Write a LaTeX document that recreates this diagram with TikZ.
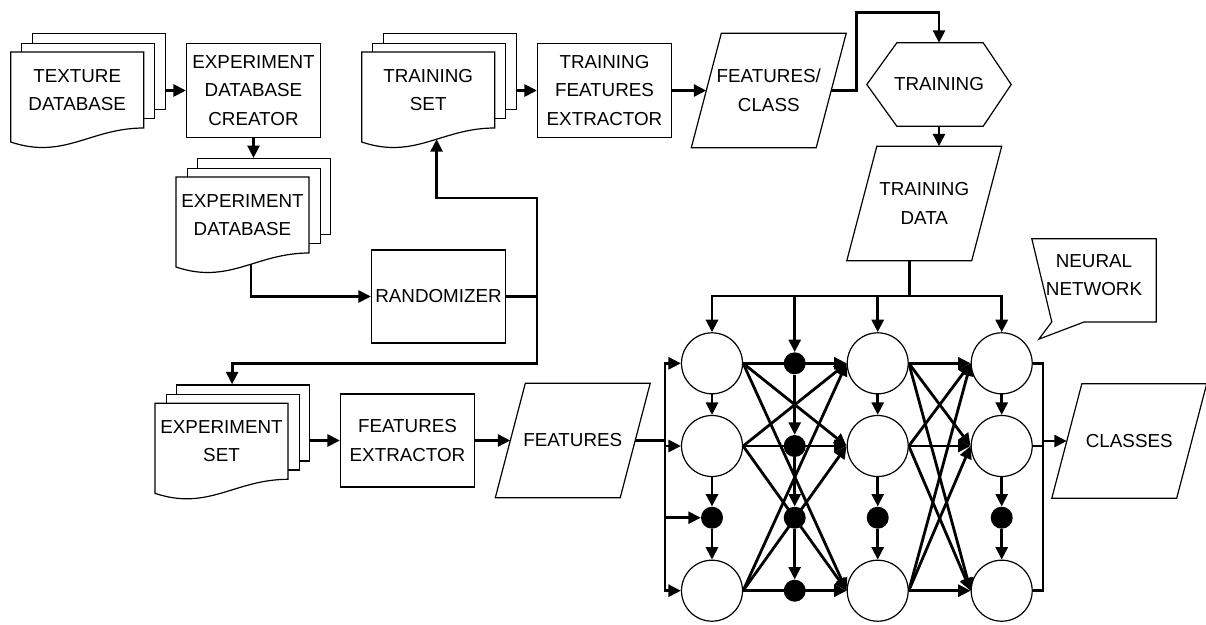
\documentclass[tikz,border=0pt]{standalone}
\usepackage{fontspec}
\setmainfont{Liberation Sans}
\usetikzlibrary{arrows.meta,calc,backgrounds}

\tikzset{
  shp/.style={draw=black, line width=1.2pt, fill=white, inner sep=0pt},
  txt/.style={font=\fontsize{18.8}{28.5}\selectfont, align=center, inner sep=0pt},
  conn/.style={line width=2.8pt},
  arr/.style={conn, -{Triangle[length=12.5pt,width=12pt]}},
  box/.style={shp, txt, minimum width=134pt, minimum height=93pt},
  neuron/.style={circle, draw=black, line width=1.2pt, fill=white, minimum size=61pt, inner sep=0pt},
  bdot/.style={circle, fill=black, minimum size=22pt, inner sep=0pt},
}

% #1 name, #2 x of front doc left, #3 y of front doc top, #4 text
\newcommand{\docstack}[4]{%
  \node[shp,minimum width=133pt,minimum height=76pt,anchor=north west] (#1-b) at ({#2+21},{#3-19}) {};
  \node[shp,minimum width=133pt,minimum height=75.5pt,anchor=north west] (#1-m) at ({#2+10.5},{#3-9.5}) {};
  \draw[shp] (#2,#3) -- ({#2+133},#3) -- ({#2+133},{#3+76})
     .. controls ({#2+79.8},{#3+76}) and ({#2+53.2},{#3+108}) .. (#2,{#3+90}) coordinate[pos=0.43] (#1-w) -- cycle;
  \node[txt] (#1) at ({#2+66.5},{#3+38}) {#4};
}
% parallelogram: #1 name, #2 cx, #3 cy, #4 text
\newcommand{\para}[4]{%
  \node[txt, minimum width=124.5pt, minimum height=114pt] (#1) at (#2,#3) {#4};
  \draw[shp, fill=none] ([xshift=15pt]#1.north west) -- ([xshift=15pt]#1.north east)
     -- ([xshift=-15pt]#1.south east) -- ([xshift=-15pt]#1.south west) -- cycle;
}

\begin{document}
\begin{tikzpicture}[x=1pt,y=-1pt]
\useasboundingbox (0,0) rectangle (1206,624);

% documents
\docstack{tex}{10.7}{52}{TEXTURE\\DATABASE}
\docstack{ts}{361.7}{52}{TRAINING\\SET}
\docstack{edb}{176}{177}{EXPERIMENT\\DATABASE}
\docstack{es}{155}{403.3}{EXPERIMENT\\SET}

% process boxes
\node[box, minimum height=94pt] (edc) at (253.5,90.5) {EXPERIMENT\\DATABASE\\CREATOR};
\node[box, minimum height=94pt] (tfe) at (604.5,90.5) {TRAINING\\FEATURES\\EXTRACTOR};
\node[box] (rand) at (438.5,296.5) {RANDOMIZER};
\node[box] (fe) at (407.5,440.5) {FEATURES\\EXTRACTOR};

% data (parallelograms)
\para{fc}{768.75}{90.5}{FEATURES/\\CLASS}
\para{td}{924.25}{203.5}{TRAINING\\DATA}
\para{feat}{572.75}{440.5}{FEATURES}
\para{cls}{1129.25}{441}{CLASSES}

% hexagon
\node[txt, minimum width=144pt, minimum height=83pt] (trn) at (939,84.5) {TRAINING};
\draw[shp, fill=none] (trn.west) -- ([xshift=30pt]trn.north west) -- ([xshift=-28pt]trn.north east)
   -- (trn.east) -- ([xshift=-28pt]trn.south east) -- ([xshift=30pt]trn.south west) -- cycle;

% callout
\node[minimum width=124pt, minimum height=82.7pt, inner sep=0pt] (nnbox) at (1094,280.35) {};
\draw[shp, fill=none] (nnbox.north west) -- (nnbox.north east) -- (nnbox.south east)
   -- ([xshift=-72pt]nnbox.south east) -- ([xshift=7pt,yshift=-17.3pt]nnbox.south west)
   -- ([xshift=20pt]nnbox.south west) -- cycle;
\node[txt] (nn) at (1094,275) {NEURAL\\NETWORK};

% neural network
\node[neuron] (n11) at (712,363.3) {};
\node[neuron] (n12) at (712,446) {};
\node[bdot]   (d13) at (712,517.7) {};
\node[neuron] (n14) at (712,590.7) {};
\node[bdot] (d21) at (794.7,363.3) {};
\node[bdot] (d22) at (794.7,446) {};
\node[bdot] (d23) at (794.7,517.7) {};
\node[bdot] (d24) at (794.7,590.7) {};
\node[neuron] (n31) at (877.7,363.3) {};
\node[neuron] (n32) at (877.7,446) {};
\node[bdot]   (d33) at (877.7,517.7) {};
\node[neuron] (n34) at (877.7,590.7) {};
\node[neuron] (n41) at (1001.7,363.3) {};
\node[neuron] (n42) at (1001.7,446) {};
\node[bdot]   (d43) at (1001.7,517.7) {};
\node[neuron] (n44) at (1001.7,590.7) {};

% bend coordinates
\coordinate (bA) at (537,198);
\coordinate (bB) at (537,363.3);
\coordinate (bC) at (856.7,12.7);
\coordinate (bus) at (0,296);
\coordinate (inb) at (665,0);
\coordinate (outb) at (1043,0);
\coordinate (tdb) at ([xshift=-15pt]td.south);

\begin{pgfonlayer}{background}
% flow connectors
\draw[arr] (tex-b.east |- edc.west) -- (edc.west);
\draw[arr] (edc.south) -- (edc.south |- edb-b.north);
\draw[arr] (edb-w) |- (rand.west);
\draw[arr] (rand.east) -| (bA) -| (ts-w);
\draw[arr] (rand.east) -| (bB) -| ([xshift=-11pt]es-b.north);
\draw[arr] (ts-b.east |- tfe.west) -- (tfe.west);
\draw[arr] (tfe.east) -- (tfe.east -| fc.west);
\draw[arr] (fc.east) -| (bC) -| (trn.north);
\draw[arr] (trn.south) -- (trn.south |- td.north);
\draw[arr] (es-b.east |- fe.west) -- (fe.west);
\draw[arr] (fe.east) -- (fe.east -| feat.west);

% training data bus
\draw[arr] (tdb) |- (n11 |- bus) -- (n11);
\draw[arr] (tdb) |- (n41 |- bus) -- (n41);
\draw[arr] (d21 |- bus) -- (d21);
\draw[arr] (n31 |- bus) -- (n31);

% input bus
\draw[conn] (feat.east) -- (inb |- feat.east);
\draw[arr] (inb |- n14) |- (n11);
\draw[arr] (inb |- n11) |- (n14);
\draw[arr] (inb |- n12) -- (n12);
\draw[arr] (inb |- d13) -- (d13);

% vertical links
\foreach \a/\b in {n11/n12, n12/d13, d13/n14, d21/d22, d22/d23, d23/d24,
                   n31/n32, n32/d33, d33/n34, n41/n42, n42/d43, d43/n44}
  \draw[arr] (\a) -- (\b);

% layer links
\foreach \s in {n11,n12,n14}
  \foreach \t in {n31,n32,n34}
    \draw[arr] (\s.east) -- (\t.west);
\foreach \s in {n31,n32,n34}
  \foreach \t in {n41,n42,n44}
    \draw[arr] (\s.east) -- (\t.west);

% output bus
\draw[conn] (n41.east) -| (outb |- n44) -- (n44.east);
\draw[conn] (n42.east) -- (outb |- n42);
\draw[arr] (outb |- cls.west) -- (cls.west);
\end{pgfonlayer}
\end{tikzpicture}
\end{document}
